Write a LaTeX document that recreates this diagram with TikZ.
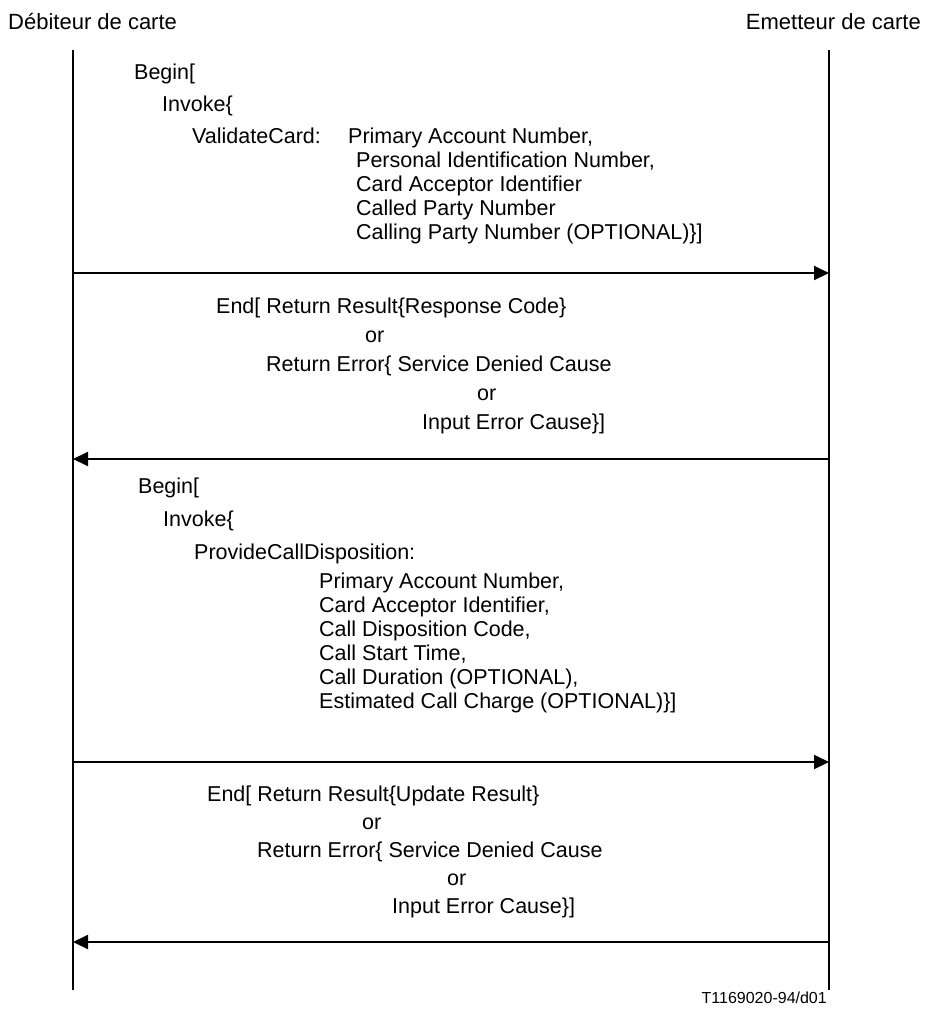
\documentclass[tikz,border=0pt]{standalone}
\usepackage{fontspec}
\setmainfont{Liberation Sans}
\usetikzlibrary{arrows.meta}

\tikzset{
  txt/.style={anchor=base west, inner sep=0pt, font=\fontsize{21.5}{22}\selectfont},
  hdr/.style={inner sep=0pt, font=\fontsize{22}{24}\selectfont},
  life/.style={line width=2pt},
  msg/.style={line width=2pt, -{Triangle[length=15pt,width=14pt]}}
}

\begin{document}
\begin{tikzpicture}[x=1pt,y=-1pt]
  \useasboundingbox (0,0) rectangle (926,1014);
  % participants
  \node[hdr, anchor=base west] (deb) at (8,30) {Débiteur de carte};
  \node[hdr, anchor=base east] (emt) at (921,30) {Emetteur de carte};
  \coordinate (dtop) at (73,50);  \coordinate (dbot) at (73,990);
  \coordinate (etop) at (829,50); \coordinate (ebot) at (829,990);
  \draw[life] (dtop) -- (dbot);
  \draw[life] (etop) -- (ebot);
  % message end points
  \coordinate (d1) at (73,273);  \coordinate (e1) at (829,273);
  \coordinate (d2) at (73,459);  \coordinate (e2) at (829,459);
  \coordinate (d3) at (73,762);  \coordinate (e3) at (829,762);
  \coordinate (d4) at (73,942);  \coordinate (e4) at (829,942);
  % first begin
  \node[txt] (begina) at (134,80) {Begin[};
  \node[txt] (invokea) at (162,112) {Invoke\{};
  \node[txt] (valid) at (192,143) {ValidateCard:};
  \node[txt] (pana) at (348,143) {Primary Account Number,};
  \node[txt] (pin) at (356,167) {Personal Identification Number,};
  \node[txt] (caia) at (356,191) {Card Acceptor Identifier};
  \node[txt] (called) at (356,215) {Called Party Number};
  \node[txt] (calling) at (356,239) {Calling Party Number (OPTIONAL)\}]};
  \draw[msg] (d1) -- (e1);
  % first end
  \node[txt] (enda) at (216,313) {End[ Return Result\{Response Code\}};
  \node[txt] (ora) at (365,342) {or};
  \node[txt] (erra) at (266,371) {Return Error\{ Service Denied Cause};
  \node[txt] (orb) at (477,400) {or};
  \node[txt] (inpa) at (422,429) {Input Error Cause\}]};
  \draw[msg] (e2) -- (d2);
  % second begin
  \node[txt] (beginb) at (138,493) {Begin[};
  \node[txt] (invokeb) at (163,526) {Invoke\{};
  \node[txt] (disp) at (194,559) {ProvideCallDisposition:};
  \node[txt] (panb) at (319,588) {Primary Account Number,};
  \node[txt] (caib) at (319,612) {Card Acceptor Identifier,};
  \node[txt] (code) at (319,636) {Call Disposition Code,};
  \node[txt] (start) at (319,660) {Call Start Time,};
  \node[txt] (dur) at (319,684) {Call Duration (OPTIONAL),};
  \node[txt] (charge) at (319,708) {Estimated Call Charge (OPTIONAL)\}]};
  \draw[msg] (d3) -- (e3);
  % second end
  \node[txt] (endb) at (207,801) {End[ Return Result\{Update Result\}};
  \node[txt] (orc) at (362,829) {or};
  \node[txt] (errb) at (257,857) {Return Error\{ Service Denied Cause};
  \node[txt] (ord) at (447,885) {or};
  \node[txt] (inpb) at (392,913) {Input Error Cause\}]};
  \draw[msg] (e4) -- (d4);
  % figure number
  \node[txt, anchor=base east, font=\fontsize{16}{17}\selectfont] (fig) at (827,1003) {T1169020-94/d01};
\end{tikzpicture}
\end{document}
